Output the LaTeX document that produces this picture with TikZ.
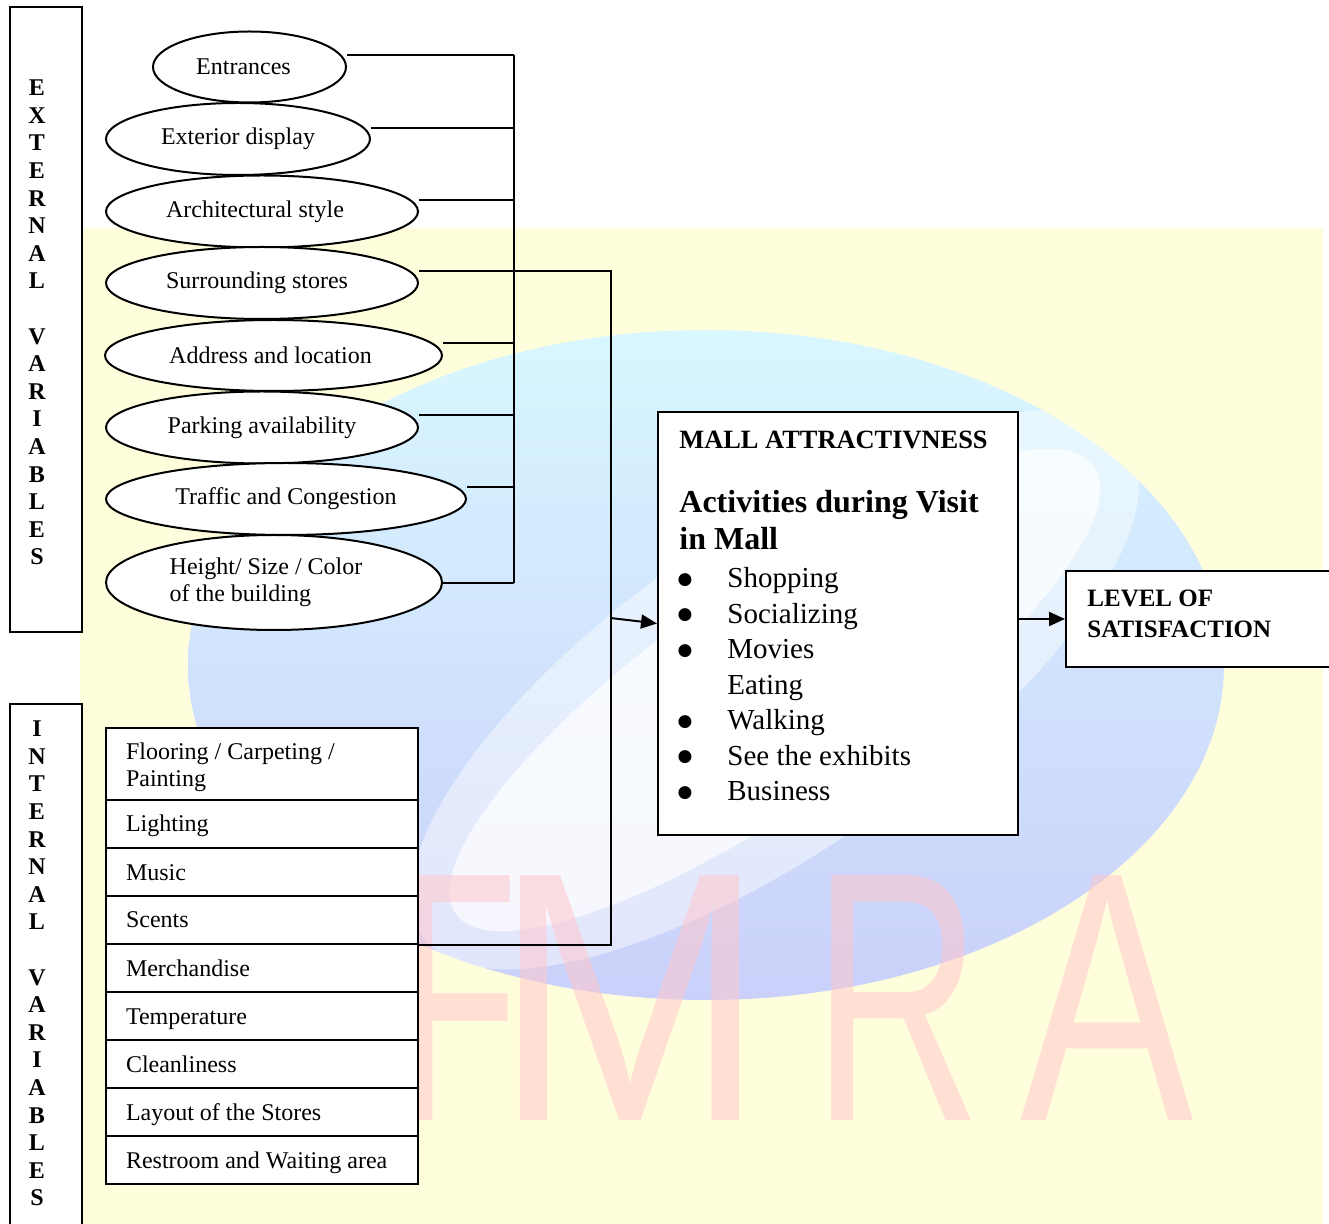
\documentclass[tikz,border=0pt]{standalone}
\usepackage{fontspec}
\setmainfont{Liberation Serif}
\newfontfamily\wmfont{Liberation Sans}
\newfontfamily\symfont{DejaVu Sans}
\usetikzlibrary{shapes.geometric,arrows.meta,calc}
\definecolor{bgyel}{RGB}{255,254,220}
\definecolor{globetop}{RGB}{216,247,255}
\definecolor{globebot}{RGB}{202,208,250}
\definecolor{wmpink}{RGB}{255,200,205}
\begin{document}
\begin{tikzpicture}[x=0.5pt,y=-0.5pt,
  ell/.style={draw,ellipse,fill=white,line width=1pt,inner sep=0pt,font=\fontsize{12}{13.5}\selectfont},
  rowbox/.style={draw,rectangle,fill=white,line width=1pt,minimum width=156pt,minimum height=24pt,
     text width=136pt,inner xsep=10pt,inner ysep=0pt,align=flush left,font=\fontsize{12}{13.5}\selectfont,
     text height=10pt,text depth=2pt},
  sidebox/.style={draw,rectangle,fill=white,line width=1pt,minimum width=36pt,inner sep=0pt},
  sidelab/.style={align=center,inner sep=0pt,font=\bfseries\fontsize{12}{13.8}\selectfont},
  bigbox/.style={draw,rectangle,fill=white,line width=1pt,inner sep=0pt},
  item/.style={anchor=base west,inner sep=0pt,font=\fontsize{14.5}{17}\selectfont},
  bul/.style={anchor=base,inner sep=0pt,font=\symfont\fontsize{8.5}{8.5}\selectfont},
  conn/.style={line width=1pt},
  arr/.style={line width=1pt,-{Triangle[length=8pt,width=7pt]}},
  wm/.style={transform shape,anchor=base,inner sep=0pt,text=wmpink,opacity=0.55,font=\wmfont\fontsize{178}{178}\selectfont}
]
\useasboundingbox (0,0) rectangle (1329,1224);
% ---------- watermark background ----------
\fill[bgyel] (80,228) rectangle (1323,1224);
\begin{scope}
  \shade[top color=globetop,bottom color=globebot] (706,665) ellipse [x radius=259pt,y radius=167.5pt];
  \clip (706,665) ellipse [x radius=259pt,y radius=167.5pt];
  \fill[white,opacity=0.45,rotate around={35:(775,690)}] (775,690) ellipse [x radius=215pt,y radius=80pt];
  \fill[white,opacity=0.7,rotate around={35:(775,690)}] (775,690) ellipse [x radius=195pt,y radius=55pt];
\end{scope}
\begin{scope}[shift={(458,1120)},xscale=0.55]\node[wm] (wmF) at (0,0) {F};\end{scope}
\begin{scope}[shift={(630,1120)},xscale=0.92]\node[wm] (wmM) at (0,0) {M};\end{scope}
\begin{scope}[shift={(897,1120)},xscale=0.66]\node[wm] (wmR) at (0,0) {R};\end{scope}
\begin{scope}[shift={(1107,1120)},xscale=0.73]\node[wm] (wmA) at (0,0) {A};\end{scope}

% ---------- side label boxes ----------
\node[sidebox,minimum height=312.5pt] (extbox) at (46,319.5) {};
\node[sidelab] (extlab) at (37,322.5) {E\\X\\T\\E\\R\\N\\A\\L\\[13.8pt]V\\A\\R\\I\\A\\B\\L\\E\\S};
\node[sidebox,minimum height=268pt] (intbox) at (46,972) {};
\node[sidelab] (intlab) at (37,963.5) {I\\N\\T\\E\\R\\N\\A\\L\\[13.8pt]V\\A\\R\\I\\A\\B\\L\\E\\S};

% ---------- external ellipses ----------
\node[ell,minimum width=96.5pt,minimum height=35.5pt] (ent) at (249.5,67) {Entrances\kern6pt};
\node[ell,minimum width=132pt,minimum height=36pt] (ext) at (238,139) {Exterior display};
\node[ell,minimum width=156pt,minimum height=36pt] (arc) at (262,211.5) {Architectural style\kern7pt};
\node[ell,minimum width=156pt,minimum height=36pt] (sur) at (262,283) {Surrounding stores\kern5pt};
\node[ell,minimum width=168.5pt,minimum height=35.5pt] (adr) at (273.5,355.5) {Address and location\kern3pt};
\node[ell,minimum width=156pt,minimum height=36pt] (prk) at (262,427.5) {Parking availability};
\node[ell,minimum width=180pt,minimum height=36pt] (trf) at (286,499) {Traffic and Congestion};
\node[ell,minimum width=168pt,minimum height=47.5pt,align=flush left] (hgt) at (274,582.5) {Height/ Size / Color\kern8pt\\of the building};

% ---------- internal list ----------
\node[rowbox,minimum height=36pt,text height=11.5pt,text depth=15.5pt] (flo) at (262,764) {Flooring / Carpeting /\\Painting};
\node[rowbox] (lig) at (262,824) {Lighting};
\node[rowbox] (mus) at (262,872) {Music};
\node[rowbox] (sce) at (262,920) {Scents};
\node[rowbox] (mer) at (262,968) {Merchandise};
\node[rowbox] (tem) at (262,1016) {Temperature};
\node[rowbox] (cle) at (262,1064) {Cleanliness};
\node[rowbox] (lay) at (262,1112) {Layout of the Stores};
\node[rowbox] (res) at (262,1160) {Restroom and Waiting area};

% ---------- mall box ----------
\node[bigbox,minimum width=180pt,minimum height=211.5pt] (mall) at (838,623.5) {};
\node[anchor=base west,inner sep=0pt,font=\bfseries\fontsize{13.2}{15}\selectfont] (mtitle) at (679,449) {MALL ATTRACTIVNESS};
\node[anchor=base west,inner sep=0pt,font=\bfseries\fontsize{16}{18.5}\selectfont] (act1) at (679,513) {Activities during Visit};
\node[anchor=base west,inner sep=0pt,font=\bfseries\fontsize{16}{18.5}\selectfont] (act2) at (679,550) {in Mall};
\node[bul] (b1) at (685,584.5) {●};
\node[item] (i1) at (727,588) {Shopping};
\node[bul] (b2) at (685,620) {●};
\node[item] (i2) at (727,623.5) {Socializing};
\node[bul] (b3) at (685,655.5) {●};
\node[item] (i3) at (727,659) {Movies};
\node[item] (i4) at (727,694.5) {Eating};
\node[bul] (b5) at (685,726.5) {●};
\node[item] (i5) at (727,730) {Walking};
\node[bul] (b6) at (685,762) {●};
\node[item] (i6) at (727,765.5) {See the exhibits};
\node[bul] (b7) at (685,797.5) {●};
\node[item] (i7) at (727,801) {Business};

% ---------- level box ----------
\node[bigbox,minimum width=137pt,minimum height=48pt] (lev) at (1203,619) {};
\node[anchor=base west,inner sep=0pt,font=\bfseries\fontsize{12.5}{15}\selectfont] (lev1) at (1087,607) {LEVEL OF};
\node[anchor=base west,inner sep=0pt,font=\bfseries\fontsize{12.5}{15}\selectfont] (lev2) at (1087,637.5) {SATISFACTION};

% ---------- connectors ----------
\coordinate (busA) at (514,0);
\coordinate (busB) at (610.5,0);
\coordinate (c1) at ($(ent.east)+(0,-12)$);
\coordinate (c2) at ($(ext.east)+(0,-11)$);
\coordinate (c3) at ($(arc.east)+(0,-11.5)$);
\coordinate (c4) at ($(sur.east)+(0,-12)$);
\coordinate (c5) at ($(adr.east)+(0,-12.5)$);
\coordinate (c6) at ($(prk.east)+(0,-12.5)$);
\coordinate (c7) at ($(trf.east)+(0,-12)$);
\coordinate (c8) at ($(hgt.east)+(0,0.5)$);
\draw[conn] (c1) -- (c1 -| busA);
\draw[conn] (c2) -- (c2 -| busA);
\draw[conn] (c3) -- (c3 -| busA);
\draw[conn] (c5) -- (c5 -| busA);
\draw[conn] (c6) -- (c6 -| busA);
\draw[conn] (c7) -- (c7 -| busA);
\draw[conn] (c8) -- (c8 -| busA);
\draw[conn] (c1 -| busA) -- (c8 -| busA);
\draw[conn] (c4) -- (c4 -| busB) -- (sce.south east -| busB) -- (sce.south east);
\coordinate (jin) at (610.5,618);
\draw[arr] (jin) -- (mall.west);
\draw[arr] (mall.east |- lev.west) -- (lev.west);
\end{tikzpicture}
\end{document}
